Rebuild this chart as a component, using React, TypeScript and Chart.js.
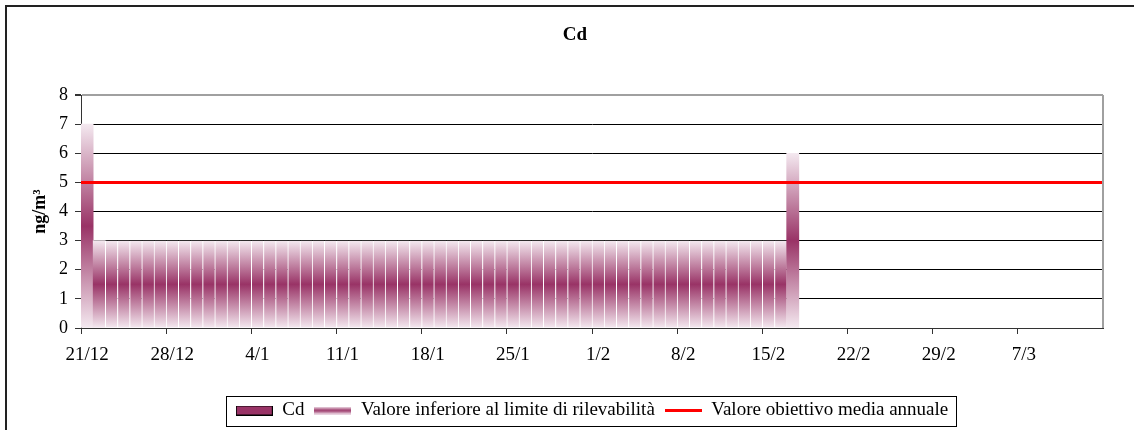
import React, { useEffect, useRef } from 'react';
import { Chart, registerables } from 'chart.js';

Chart.register(...registerables);

// ---- data ----
const categories: string[] = [
  '21/12', '22/12', '23/12', '24/12', '25/12', '26/12', '27/12', '28/12', '29/12', '30/12', '31/12',
  '1/1', '2/1', '3/1', '4/1', '5/1', '6/1', '7/1', '8/1', '9/1', '10/1', '11/1', '12/1', '13/1', '14/1', '15/1',
  '16/1', '17/1', '18/1', '19/1', '20/1', '21/1', '22/1', '23/1', '24/1', '25/1', '26/1', '27/1', '28/1', '29/1',
  '30/1', '31/1',
  '1/2', '2/2', '3/2', '4/2', '5/2', '6/2', '7/2', '8/2', '9/2', '10/2', '11/2', '12/2', '13/2', '14/2', '15/2',
  '16/2', '17/2', '18/2', '19/2', '20/2', '21/2', '22/2', '23/2', '24/2', '25/2', '26/2', '27/2', '28/2', '29/2',
  '1/3', '2/3', '3/3', '4/3', '5/3', '6/3', '7/3', '8/3', '9/3', '10/3', '11/3', '12/3', '13/3',
];

const tickLabels: string[] = ['21/12', '28/12', '4/1', '11/1', '18/1', '25/1', '1/2', '8/2', '15/2', '22/2', '29/2', '7/3'];

const seriesNames: string[] = ['Cd', 'Valore inferiore al limite di rilevabilità', 'Valore obiettivo media annuale'];

// measured Cd values (none visible in the reference)
const cdValues: (number | null)[] = [];

// values below detection limit (drawn with gradient)
const belowLimitValues: (number | null)[] = [
  7,
  3, 3, 3, 3, 3, 3, 3, 3, 3, 3,
  3, 3, 3, 3, 3, 3, 3, 3, 3, 3,
  3, 3, 3, 3, 3, 3, 3, 3, 3, 3,
  3, 3, 3, 3, 3, 3, 3, 3, 3, 3,
  3, 3, 3, 3, 3, 3, 3, 3, 3, 3,
  3, 3, 3, 3, 3, 3, 3,
  6,
];

const objectiveEnds: string[] = ['start', 'end'];
const objectiveValues: number[] = [5, 5];

const yTicks = { min: 0, max: 8, step: 1 };

// ---- styles ----
const FONT = "'Liberation Serif', 'Times New Roman', serif";
const PURPLE = '#993366';
const LIGHT = '#f4e9f0';
const RED = '#ff0000';

function makeSwatch(kind: 'solid' | 'gradient' | 'line'): HTMLCanvasElement {
  const c = document.createElement('canvas');
  const w = 37;
  const h = kind === 'solid' ? 10 : kind === 'gradient' ? 8 : 3;
  c.width = w;
  c.height = h;
  const g = c.getContext('2d')!;
  if (kind === 'solid') {
    g.fillStyle = PURPLE;
    g.fillRect(0, 0, w, h);
    g.strokeStyle = '#000';
    g.lineWidth = 1;
    g.strokeRect(0.5, 0.5, w - 1, h - 1);
  } else if (kind === 'gradient') {
    const gr = g.createLinearGradient(0, 0, 0, h);
    gr.addColorStop(0, LIGHT);
    gr.addColorStop(0.5, PURPLE);
    gr.addColorStop(1, LIGHT);
    g.fillStyle = gr;
    g.fillRect(0, 0, w, h);
  } else {
    g.fillStyle = RED;
    g.fillRect(0, 0, w, h);
  }
  return c;
}

const framePlugin = {
  id: 'frames',
  afterDraw(chart: any) {
    const { ctx, chartArea: a } = chart;
    ctx.save();
    // plot area right edge
    ctx.strokeStyle = '#a0a0a0';
    ctx.lineWidth = 2;
    ctx.beginPath();
    ctx.moveTo(a.right, a.top);
    ctx.lineTo(a.right, a.bottom);
    ctx.stroke();
    // legend frame
    const boxes = chart.legend && chart.legend.legendHitBoxes;
    if (boxes && boxes.length) {
      let l = Infinity, r = -Infinity, t = Infinity, b = -Infinity;
      boxes.forEach((bx: any) => {
        l = Math.min(l, bx.left);
        r = Math.max(r, bx.left + bx.width);
        t = Math.min(t, bx.top);
        b = Math.max(b, bx.top + bx.height);
      });
      ctx.strokeStyle = '#000';
      ctx.lineWidth = 1;
      const x0 = Math.round(l - 10) + 0.5;
      const y0 = Math.round(t - 5) + 0.5;
      const x1 = Math.round(r + 8) + 0.5;
      const y1 = Math.round(b + 6) + 0.5;
      ctx.strokeRect(x0, y0, x1 - x0, y1 - y0);
    }
    // outer chart frame
    ctx.strokeStyle = '#222';
    ctx.lineWidth = 2;
    ctx.strokeRect(6, 6, chart.width + 100, chart.height + 100);
    ctx.restore();
  },
};

export default function App() {
  const canvasRef = useRef<HTMLCanvasElement | null>(null);

  useEffect(() => {
    const canvas = canvasRef.current;
    if (!canvas) return;

    const swatches = [makeSwatch('solid'), makeSwatch('gradient'), makeSwatch('line')];

    const gradientFill = (ctx: any) => {
      const chart = ctx.chart;
      const v = ctx.raw;
      if (ctx.type !== 'data' || v == null || !chart.chartArea) return PURPLE;
      const y = chart.scales.y;
      const top = y.getPixelForValue(v);
      const bottom = y.getPixelForValue(0);
      const g = chart.ctx.createLinearGradient(0, top, 0, bottom);
      g.addColorStop(0, LIGHT);
      g.addColorStop(0.5, PURPLE);
      g.addColorStop(1, LIGHT);
      return g;
    };

    const chart = new Chart(canvas, {
      type: 'bar',
      data: {
        labels: categories,
        datasets: [
          {
            type: 'bar',
            label: seriesNames[0],
            data: cdValues,
            backgroundColor: PURPLE,
            borderColor: '#000',
            borderWidth: 1,
            barPercentage: 1,
            categoryPercentage: 1,
            grouped: false,
            order: 1,
          } as any,
          {
            type: 'bar',
            label: seriesNames[1],
            data: belowLimitValues,
            backgroundColor: gradientFill,
            borderColor: 'rgba(255,255,255,1)',
            borderWidth: (ctx: any) => {
              const i = ctx.dataIndex;
              const prev = belowLimitValues[i - 1];
              const cur = belowLimitValues[i];
              const gap = i > 0 && prev != null && cur != null && prev === cur ? 1 : 0;
              return { left: gap, right: 0, top: 0, bottom: 0 };
            },
            borderSkipped: false,
            barPercentage: 1,
            categoryPercentage: 1,
            grouped: false,
            order: 1,
          } as any,
          {
            type: 'line',
            label: seriesNames[2],
            data: objectiveValues,
            xAxisID: 'x2',
            yAxisID: 'y',
            borderColor: RED,
            backgroundColor: RED,
            borderWidth: 3,
            pointRadius: 0,
            fill: false,
            order: -1,
          } as any,
        ],
      },
      options: {
        animation: false,
        responsive: false,
        events: [],
        devicePixelRatio: 1,
        layout: { padding: { left: 0, right: 0, top: 0, bottom: 0 } },
        scales: {
          x: {
            type: 'category',
            offset: true,
            grid: {
              offset: true,
              drawOnChartArea: false,
              drawTicks: true,
              tickLength: 6,
              color: (ctx: any) => {
                const i = ctx.index;
                if (i >= categories.length) return '#333';
                return tickLabels.includes(categories[i]) ? '#333' : 'rgba(0,0,0,0)';
              },
            },
            border: { display: true, color: '#333', width: 1 },
            ticks: {
              autoSkip: false,
              maxRotation: 0,
              minRotation: 0,
              padding: 10,
              color: '#000',
              font: { family: FONT, size: 19 },
              callback: (_v: any, i: number) => (tickLabels.includes(categories[i]) ? categories[i] : ''),
            },
            afterFit: (s: any) => {
              s.height = 63;
            },
          },
          x2: {
            type: 'category',
            labels: objectiveEnds,
            offset: false,
            display: false,
          },
          y: {
            min: yTicks.min,
            max: yTicks.max,
            ticks: {
              stepSize: yTicks.step,
              padding: 7,
              color: '#000',
              font: { family: FONT, size: 18 },
            },
            grid: {
              color: (ctx: any) => (ctx.tick && ctx.tick.value === yTicks.max ? '#a0a0a0' : '#000'),
              lineWidth: (ctx: any) => (ctx.tick && ctx.tick.value === yTicks.max ? 2 : 1),
              tickColor: '#333',
              tickLength: 6,
            },
            border: { display: true, color: '#333', width: 1 },
            title: {
              display: true,
              text: 'ng/m³',
              color: '#000',
              font: { family: FONT, size: 18, weight: 'bold' },
              padding: { top: 30, bottom: 0 },
            },
            afterFit: (s: any) => {
              s.width = 81;
            },
          },
          yRight: {
            type: 'linear',
            position: 'right',
            display: true,
            grid: { display: false },
            border: { display: false },
            ticks: { display: false },
            afterFit: (s: any) => {
              s.width = 47;
            },
          },
        },
        plugins: {
          title: {
            display: true,
            text: 'Cd',
            color: '#000',
            font: { family: FONT, size: 19, weight: 'bold' },
            padding: { top: 24, bottom: 48.2 },
          },
          legend: {
            display: true,
            position: 'bottom',
            fullSize: false,
            labels: {
              usePointStyle: true,
              pointStyleWidth: 37,
              boxHeight: 10,
              padding: 10,
              color: '#000',
              font: { family: FONT, size: 19 },
              generateLabels: () =>
                seriesNames.map((name, i) => ({
                  text: name,
                  datasetIndex: i,
                  pointStyle: swatches[i],
                  fillStyle: PURPLE,
                  strokeStyle: 'rgba(0,0,0,0)',
                  lineWidth: 0,
                  hidden: false,
                  fontColor: '#000',
                })),
            },
          },
          tooltip: { enabled: false },
        },
      } as any,
      plugins: [framePlugin],
    });

    return () => {
      chart.destroy();
    };
  }, []);

  return (
    <div style={{ position: 'absolute', left: 0, top: 0, width: 1134, height: 430, overflow: 'hidden', background: '#fff' }}>
      <canvas ref={canvasRef} width={1150} height={430} style={{ display: 'block' }} />
    </div>
  );
}
